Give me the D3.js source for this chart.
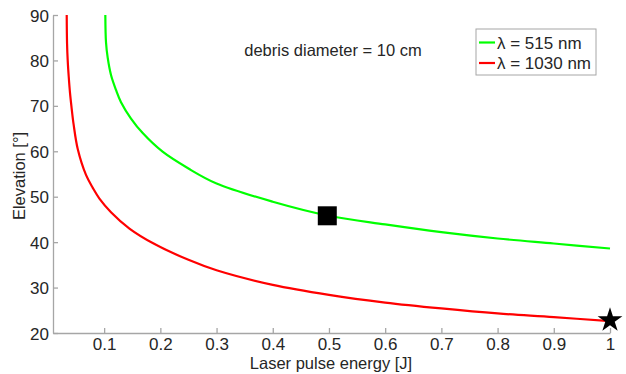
<!DOCTYPE html>
<html>
<head>
<meta charset="utf-8">
<script src="https://cdn.jsdelivr.net/npm/d3@7"></script>
<style>
  body { margin: 0; background: #fff; }
  svg { display: block; font-family: "Liberation Sans", Arial, sans-serif; }
</style>
</head>
<body>
<svg id="chart" width="626" height="374"></svg>
<script>
// values
var energy515 = [0.1021, 0.1033, 0.1063, 0.1122, 0.1211, 0.130, 0.1478, 0.1686, 0.204, 0.25, 0.30, 0.40, 0.50, 0.60, 0.70, 0.80, 0.90, 1.0];
var elev515   = [90, 84.0, 80.6, 76.8, 73.5, 70.8, 67.2, 64.0, 59.9, 56.2, 52.9, 48.9, 45.8, 43.9, 42.2, 40.8, 39.7, 38.6];
var energy1030 = [0.0334, 0.034, 0.0352, 0.037, 0.0393, 0.0417, 0.0458, 0.053, 0.0677, 0.080, 0.0916, 0.1122, 0.145, 0.188, 0.25, 0.30, 0.40, 0.50, 0.60, 0.70, 0.80, 0.90, 1.0];
var elev1030   = [90, 83.8, 79.9, 76.4, 72.8, 70.0, 65.8, 60.5, 54.8, 51.9, 49.6, 46.6, 43.0, 39.7, 36.1, 33.8, 30.6, 28.4, 26.7, 25.4, 24.3, 23.5, 22.6];
var seriesNames = ["\u03bb = 515 nm", "\u03bb = 1030 nm"];
var seriesColors = ["#00ff00", "#ff0000"];
var xTicks = [0.1, 0.2, 0.3, 0.4, 0.5, 0.6, 0.7, 0.8, 0.9, 1];
var yTicks = [20, 30, 40, 50, 60, 70, 80, 90];
var squareMark = [0.497, 45.8];
var starMark = [1.0, 22.8];
var note = "debris diameter = 10 cm";

var margin = {top: 15, right: 16, bottom: 41, left: 53};
var width = 626, height = 374;
var axisColor = "#a6a6a6", textColor = "#262626";

var svg = d3.select("#chart");

var x = d3.scaleLinear().domain([0.009, 1]).range([margin.left, width - margin.right]);
var y = d3.scaleLinear().domain([20, 90]).range([height - margin.bottom, margin.top]);

// axes (ticks point inwards like matlab)
var gx = svg.append("g")
    .attr("transform", "translate(0," + y(20) + ")")
    .call(d3.axisTop(x).tickValues(xTicks).tickFormat(d3.format("")).tickSize(5).tickSizeOuter(0));
gx.selectAll("text").attr("y", 17).attr("dy", "0");
var gy = svg.append("g")
    .attr("transform", "translate(" + x(0.009) + ",0)")
    .call(d3.axisRight(y).tickValues(yTicks).tickSize(5).tickSizeOuter(0));
gy.selectAll("text").attr("x", -4).attr("dy", "0.36em").attr("text-anchor", "end");

svg.selectAll("g").attr("font-size", null).attr("font-family", null);
svg.selectAll(".domain, .tick line").attr("stroke", axisColor).attr("stroke-width", 1.3);
svg.selectAll(".tick text").attr("fill", textColor).style("font-size", "17px");

// axis labels
svg.append("text")
    .attr("x", 331).attr("y", 369)
    .attr("text-anchor", "middle")
    .attr("fill", textColor).style("font-size", "16.5px")
    .text("Laser pulse energy [J]");
svg.append("text")
    .attr("transform", "translate(25,176) rotate(-90)")
    .attr("text-anchor", "middle")
    .attr("fill", textColor).style("font-size", "16.5px")
    .text("Elevation [\u00b0]");

// curves
var series = [d3.zip(energy515, elev515), d3.zip(energy1030, elev1030)];
var line = d3.line()
    .x(function(d) { return x(d[0]); })
    .y(function(d) { return y(d[1]); })
    .curve(d3.curveCatmullRom.alpha(0.5));
series.forEach(function(s, i) {
  svg.append("path")
      .datum(s)
      .attr("d", line)
      .attr("fill", "none")
      .attr("stroke", seriesColors[i])
      .attr("stroke-width", 2.2);
});

// markers
svg.append("path")
    .attr("d", d3.symbol().type(d3.symbolSquare).size(361)())
    .attr("transform", "translate(" + x(squareMark[0]) + "," + y(squareMark[1]) + ")")
    .attr("fill", "#000");
svg.append("path")
    .attr("d", d3.symbol().type(d3.symbolStar).size(190)())
    .attr("transform", "translate(" + x(starMark[0]) + "," + y(starMark[1]) + ")")
    .attr("fill", "#000");

// note
svg.append("text")
    .attr("x", 333).attr("y", 55.5)
    .attr("text-anchor", "middle")
    .attr("fill", textColor).style("font-size", "16.5px")
    .text(note);

// legend
var legend = svg.append("g").attr("transform", "translate(476,29)");
legend.append("rect")
    .attr("width", 120).attr("height", 46)
    .attr("fill", "#fff").attr("stroke", "#a6a6a6").attr("stroke-width", 1);
seriesNames.forEach(function(name, i) {
  var ly = 13.5 + i * 20.5;
  legend.append("line")
      .attr("x1", 3).attr("x2", 19).attr("y1", ly).attr("y2", ly)
      .attr("stroke", seriesColors[i]).attr("stroke-width", 2.2);
  legend.append("text")
      .attr("x", 21).attr("y", ly + 6)
      .attr("fill", textColor).style("font-size", "17px")
      .text(name);
});
</script>
</body>
</html>
